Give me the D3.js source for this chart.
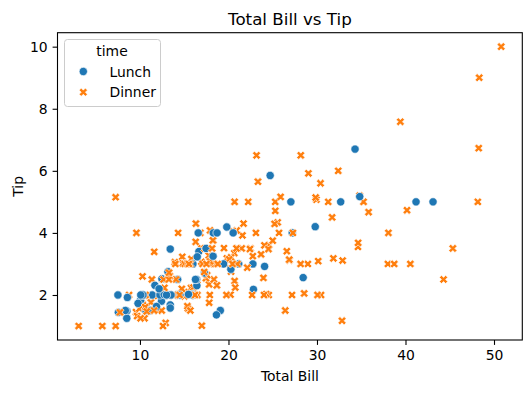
<!DOCTYPE html>
<html>
<head>
<meta charset="utf-8">
<script src="https://cdn.jsdelivr.net/npm/d3@7"></script>
<style>
  body { margin: 0; background: #fff; }
  svg { display: block; font-family: "DejaVu Sans", sans-serif; }
</style>
</head>
<body>
<svg id="chart" width="531" height="393"></svg>
<script>
// tips data: total bill, tip, time
var totalBill = [16.99,10.34,21.01,23.68,24.59,25.29,8.77,26.88,15.04,14.78,10.27,35.26,15.42,18.43,14.83,21.58,10.33,16.29,16.97,20.65,
  17.92,20.29,15.77,39.42,19.82,17.81,13.37,12.69,21.7,19.65,9.55,18.35,15.06,20.69,17.78,24.06,16.31,16.93,18.69,31.27,
  16.04,17.46,13.94,9.68,30.4,18.29,22.23,32.4,28.55,18.04,12.54,10.29,34.81,9.94,25.56,19.49,38.01,26.41,11.24,48.27,
  20.29,13.81,11.02,18.29,17.59,20.08,16.45,3.07,20.23,15.01,12.02,17.07,26.86,25.28,14.73,10.51,17.92,27.2,22.76,17.29,
  19.44,16.66,10.07,32.68,15.98,34.83,13.03,18.28,24.71,21.16,28.97,22.49,5.75,16.32,22.75,40.17,27.28,12.03,21.01,12.46,
  11.35,15.38,44.3,22.42,20.92,15.36,20.49,25.21,18.24,14.31,14.0,7.25,38.07,23.95,25.71,17.31,29.93,10.65,12.43,24.08,
  11.69,13.42,14.26,15.95,12.48,29.8,8.52,14.52,11.38,22.82,19.08,20.27,11.17,12.26,18.26,8.51,10.33,14.15,16.0,13.16,
  17.47,34.3,41.19,27.05,16.43,8.35,18.64,11.87,9.78,7.51,14.07,13.13,17.26,24.55,19.77,29.85,48.17,25.0,13.39,16.49,
  21.5,12.66,16.21,13.81,17.51,24.52,20.76,31.71,10.59,10.63,50.81,15.81,7.25,31.85,16.82,32.9,17.89,14.48,9.6,34.63,
  34.65,23.33,45.35,23.17,40.55,20.69,20.9,30.46,18.15,23.1,15.69,19.81,28.44,15.48,16.58,7.56,10.34,43.11,13.0,13.51,
  18.71,12.74,13.0,16.4,20.53,16.47,26.59,38.73,24.27,12.76,30.06,25.89,48.33,13.27,28.17,12.9,28.15,11.59,7.74,30.14,
  12.16,13.42,8.58,15.98,13.42,16.27,10.09,20.45,13.28,22.12,24.01,15.69,11.61,10.77,15.53,10.07,12.6,32.83,35.83,29.03,
  27.18,22.67,17.82,18.78];
var tip = [1.01,1.66,3.5,3.31,3.61,4.71,2.0,3.12,1.96,3.23,1.71,5.0,1.57,3.0,3.02,3.92,1.67,3.71,3.5,3.35,
  4.08,2.75,2.23,7.58,3.18,2.34,2.0,2.0,4.3,3.0,1.45,2.5,3.0,2.45,3.27,3.6,2.0,3.07,2.31,5.0,
  2.24,2.54,3.06,1.32,5.6,3.0,5.0,6.0,2.05,3.0,2.5,2.6,5.2,1.56,4.34,3.51,3.0,1.5,1.76,6.73,
  3.21,2.0,1.98,3.76,2.64,3.15,2.47,1.0,2.01,2.09,1.97,3.0,3.14,5.0,2.2,1.25,3.08,4.0,3.0,2.71,
  3.0,3.4,1.83,5.0,2.03,5.17,2.0,4.0,5.85,3.0,3.0,3.5,1.0,4.3,3.25,4.73,4.0,1.5,3.0,1.5,
  2.5,3.0,2.5,3.48,4.08,1.64,4.06,4.29,3.76,4.0,3.0,1.0,4.0,2.55,4.0,3.5,5.07,1.5,1.8,2.92,
  2.31,1.68,2.5,2.0,2.52,4.2,1.48,2.0,2.0,2.18,1.5,2.83,1.5,2.0,3.25,1.25,2.0,2.0,2.0,2.75,
  3.5,6.7,5.0,5.0,2.3,1.5,1.36,1.63,1.73,2.0,2.5,2.0,2.74,2.0,2.0,5.14,5.0,3.75,2.61,2.0,
  3.5,2.5,2.0,2.0,3.0,3.48,2.24,4.5,1.61,2.0,10.0,3.16,5.15,3.18,4.0,3.11,2.0,2.0,4.0,3.55,
  3.68,5.65,3.5,6.5,3.0,5.0,3.5,2.0,3.5,4.0,1.5,4.19,2.56,2.02,4.0,1.44,2.0,5.0,2.0,2.0,
  4.0,2.01,2.0,2.5,4.0,3.23,3.41,3.0,2.03,2.23,2.0,5.16,9.0,2.5,6.5,1.1,3.0,1.5,1.44,3.09,
  2.2,3.48,1.92,3.0,1.58,2.5,2.0,3.0,2.72,2.88,2.0,3.0,3.39,1.47,3.0,1.25,1.0,1.17,4.67,5.92,
  2.0,2.0,1.75,3.0];
// time of each row, stored as consecutive runs in row order
var timeRuns = [["Dinner", 77], ["Lunch", 13], ["Dinner", 27], ["Lunch", 33], ["Dinner", 41],
  ["Lunch", 15], ["Dinner", 14], ["Lunch", 7], ["Dinner", 17]];

var timeOrder = ["Lunch", "Dinner"];
var timeColors = ["#1f77b4", "#ff7f0e"];
var xTicks = [10, 20, 30, 40, 50];
var yTicks = [2, 4, 6, 8, 10];

var time = [];
timeRuns.forEach(function(r) { for (var k = 0; k < r[1]; k++) time.push(r[0]); });

var svg = d3.select("#chart");
var W = 531, H = 393;
var margin = { left: 57.5, right: W - 522.3, top: 32.7, bottom: H - 340 };
var iw = W - margin.left - margin.right, ih = H - margin.top - margin.bottom;

var points = totalBill.map(function(b, i) { return { bill: b, tip: tip[i], time: time[i] }; });

// matplotlib style 5% margins
function padded(ext) { var p = (ext[1] - ext[0]) * 0.05; return [ext[0] - p, ext[1] + p]; }

var x = d3.scaleLinear().domain(padded(d3.extent(totalBill))).range([margin.left, margin.left + iw]);
var y = d3.scaleLinear().domain(padded(d3.extent(tip))).range([margin.top + ih, margin.top]);
var color = d3.scaleOrdinal().domain(timeOrder).range(timeColors);

var msize = 8.3;
var xPath = [[0.25,0],[0.5,0.25],[0.75,0],[1,0.25],[0.75,0.5],[1,0.75],[0.75,1],[0.5,0.75],[0.25,1],[0,0.75],[0.25,0.5],[0,0.25]]
  .map(function(p) { return [(p[0] - 0.5) * msize, (p[1] - 0.5) * msize]; });
var xMarker = "M" + xPath.map(function(p) { return p[0] + "," + p[1]; }).join("L") + "Z";

function drawMarker(sel, t) {
  if (t === "Lunch") {
    sel.append("circle").attr("r", msize / 2);
  } else {
    sel.append("path").attr("d", xMarker);
  }
  sel.selectAll("*").attr("fill", color(t)).attr("stroke", "#fff").attr("stroke-width", 0.67);
}

// points
var g = svg.append("g");
points.forEach(function(d) {
  var m = g.append("g").attr("transform", "translate(" + x(d.bill) + "," + y(d.tip) + ")");
  drawMarker(m, d.time);
});

// axes
var xAxis = d3.axisBottom(x).tickValues(xTicks).tickSize(4.9).tickPadding(4.9).tickFormat(d3.format("d"));
var yAxis = d3.axisLeft(y).tickValues(yTicks).tickSize(4.9).tickPadding(4.9).tickFormat(d3.format("d"));

svg.append("g").attr("transform", "translate(0," + (margin.top + ih) + ")").call(xAxis)
  .call(function(s) { s.select(".domain").remove(); });
svg.append("g").attr("transform", "translate(" + margin.left + ",0)").call(yAxis)
  .call(function(s) { s.select(".domain").remove(); });
svg.selectAll(".tick line").attr("stroke", "#000").attr("stroke-width", 1.1);
svg.selectAll(".tick text").attr("fill", "#000").attr("font-size", "13.9px").attr("font-family", "DejaVu Sans");

svg.append("rect")
  .attr("x", margin.left).attr("y", margin.top).attr("width", iw).attr("height", ih)
  .attr("fill", "none").attr("stroke", "#000").attr("stroke-width", 1.1);

// labels
svg.append("text").attr("x", margin.left + iw / 2).attr("y", 24.6)
  .attr("text-anchor", "middle").attr("font-size", "16.7px").text("Total Bill vs Tip");
svg.append("text").attr("x", margin.left + iw / 2).attr("y", 380.5)
  .attr("text-anchor", "middle").attr("font-size", "13.9px").text("Total Bill");
svg.append("text").attr("transform", "translate(23," + (margin.top + ih / 2) + ") rotate(-90)")
  .attr("text-anchor", "middle").attr("font-size", "13.9px").text("Tip");

// legend
var lg = svg.append("g");
lg.append("rect").attr("x", 64.5).attr("y", 39.5).attr("width", 96).attr("height", 67)
  .attr("rx", 3).attr("fill", "#fff").attr("fill-opacity", 0.8).attr("stroke", "#cccccc").attr("stroke-width", 1);
lg.append("text").attr("x", 112).attr("y", 55.5).attr("text-anchor", "middle").attr("font-size", "13.9px").text("time");
timeOrder.forEach(function(t, i) {
  var cy = 71.5 + i * 20.7;
  var m = lg.append("g").attr("transform", "translate(83.3," + cy + ")");
  drawMarker(m, t);
  lg.append("text").attr("x", 109.5).attr("y", cy + 5).attr("font-size", "13.9px").text(t);
});
</script>
</body>
</html>
